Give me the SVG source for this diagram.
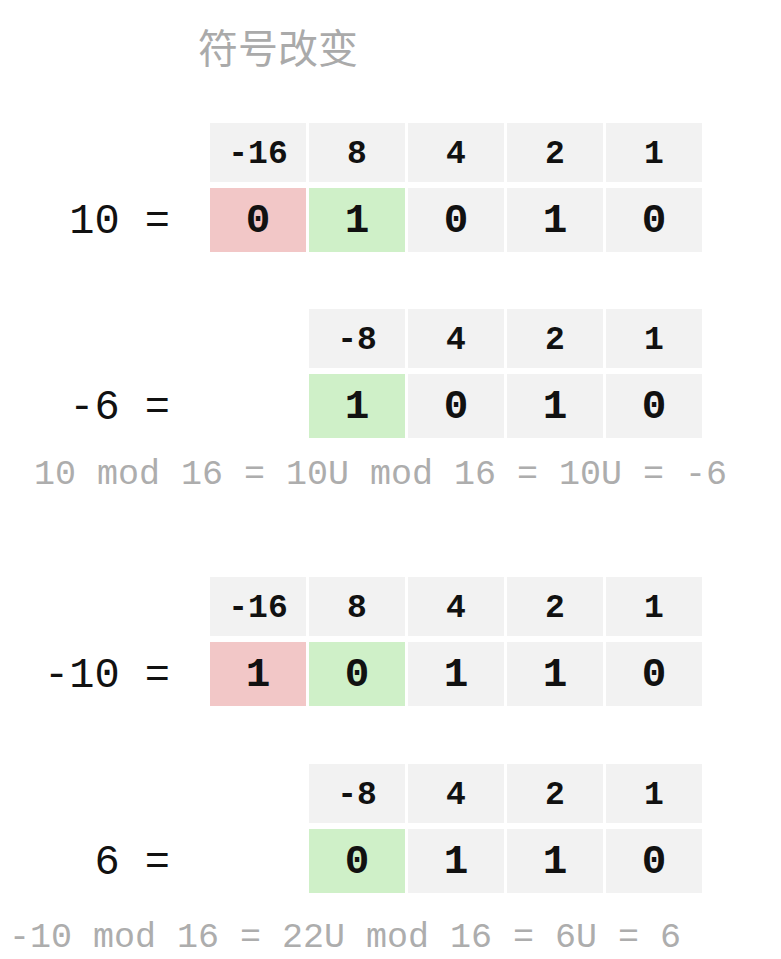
<svg xmlns="http://www.w3.org/2000/svg" width="781" height="959" viewBox="0 0 781 959">
<style>
.bg{fill:#ffffff}
.c{fill:#f2f2f2}
.r{fill:#f2c7c7}
.g{fill:#cff0c8}
.h{font-family:"Courier New","Nimbus Mono PS","FreeMono","Liberation Mono",monospace;font-weight:bold;font-size:33px;fill:#111;text-anchor:middle}
.v{font-family:"Courier New","Nimbus Mono PS","FreeMono","Liberation Mono",monospace;font-weight:bold;font-size:41px;fill:#111;text-anchor:middle}
.lbl{font-family:"Courier New","Nimbus Mono PS","FreeMono","Liberation Mono",monospace;font-size:42px;fill:#111;text-anchor:end}
.f{font-family:"Courier New","Nimbus Mono PS","FreeMono","Liberation Mono",monospace;font-size:35px;fill:#adadad}
.t{font-family:"Noto Sans CJK SC",sans-serif;font-size:40px;fill:#aaaaaa}
</style>
<rect class="bg" x="0" y="0" width="781" height="959"/>
<g id="title"><text class="t" x="198" y="63">符号改变</text></g>

<g id="block1">
<text class="lbl" x="170" y="233">10 =</text>
<rect class="c" x="210" y="123" width="96" height="59"/><text class="h" x="258" y="163">-16</text>
<rect class="c" x="309" y="123" width="96" height="59"/><text class="h" x="357" y="163">8</text>
<rect class="c" x="408" y="123" width="96" height="59"/><text class="h" x="456" y="163">4</text>
<rect class="c" x="507" y="123" width="96" height="59"/><text class="h" x="555" y="163">2</text>
<rect class="c" x="606" y="123" width="96" height="59"/><text class="h" x="654" y="163">1</text>
<rect class="r" x="210" y="188" width="96" height="64"/><text class="v" x="258" y="232">0</text>
<rect class="g" x="309" y="188" width="96" height="64"/><text class="v" x="357" y="232">1</text>
<rect class="c" x="408" y="188" width="96" height="64"/><text class="v" x="456" y="232">0</text>
<rect class="c" x="507" y="188" width="96" height="64"/><text class="v" x="555" y="232">1</text>
<rect class="c" x="606" y="188" width="96" height="64"/><text class="v" x="654" y="232">0</text>
</g>

<g id="block2">
<text class="lbl" x="170" y="419">-6 =</text>
<rect class="c" x="309" y="309" width="96" height="59"/><text class="h" x="357" y="349">-8</text>
<rect class="c" x="408" y="309" width="96" height="59"/><text class="h" x="456" y="349">4</text>
<rect class="c" x="507" y="309" width="96" height="59"/><text class="h" x="555" y="349">2</text>
<rect class="c" x="606" y="309" width="96" height="59"/><text class="h" x="654" y="349">1</text>
<rect class="g" x="309" y="374" width="96" height="64"/><text class="v" x="357" y="418">1</text>
<rect class="c" x="408" y="374" width="96" height="64"/><text class="v" x="456" y="418">0</text>
<rect class="c" x="507" y="374" width="96" height="64"/><text class="v" x="555" y="418">1</text>
<rect class="c" x="606" y="374" width="96" height="64"/><text class="v" x="654" y="418">0</text>
</g>
<g id="formula1"><text class="f" x="34" y="484">10 mod 16 = 10U mod 16 = 10U = -6</text></g>

<g id="block3">
<text class="lbl" x="170" y="687">-10 =</text>
<rect class="c" x="210" y="577" width="96" height="59"/><text class="h" x="258" y="617">-16</text>
<rect class="c" x="309" y="577" width="96" height="59"/><text class="h" x="357" y="617">8</text>
<rect class="c" x="408" y="577" width="96" height="59"/><text class="h" x="456" y="617">4</text>
<rect class="c" x="507" y="577" width="96" height="59"/><text class="h" x="555" y="617">2</text>
<rect class="c" x="606" y="577" width="96" height="59"/><text class="h" x="654" y="617">1</text>
<rect class="r" x="210" y="642" width="96" height="64"/><text class="v" x="258" y="686">1</text>
<rect class="g" x="309" y="642" width="96" height="64"/><text class="v" x="357" y="686">0</text>
<rect class="c" x="408" y="642" width="96" height="64"/><text class="v" x="456" y="686">1</text>
<rect class="c" x="507" y="642" width="96" height="64"/><text class="v" x="555" y="686">1</text>
<rect class="c" x="606" y="642" width="96" height="64"/><text class="v" x="654" y="686">0</text>
</g>

<g id="block4">
<text class="lbl" x="170" y="874">6 =</text>
<rect class="c" x="309" y="764" width="96" height="59"/><text class="h" x="357" y="804">-8</text>
<rect class="c" x="408" y="764" width="96" height="59"/><text class="h" x="456" y="804">4</text>
<rect class="c" x="507" y="764" width="96" height="59"/><text class="h" x="555" y="804">2</text>
<rect class="c" x="606" y="764" width="96" height="59"/><text class="h" x="654" y="804">1</text>
<rect class="g" x="309" y="829" width="96" height="64"/><text class="v" x="357" y="873">0</text>
<rect class="c" x="408" y="829" width="96" height="64"/><text class="v" x="456" y="873">1</text>
<rect class="c" x="507" y="829" width="96" height="64"/><text class="v" x="555" y="873">1</text>
<rect class="c" x="606" y="829" width="96" height="64"/><text class="v" x="654" y="873">0</text>
</g>
<g id="formula2"><text class="f" x="9" y="947">-10 mod 16 = 22U mod 16 = 6U = 6</text></g>
<g id="connectors"></g>
</svg>
